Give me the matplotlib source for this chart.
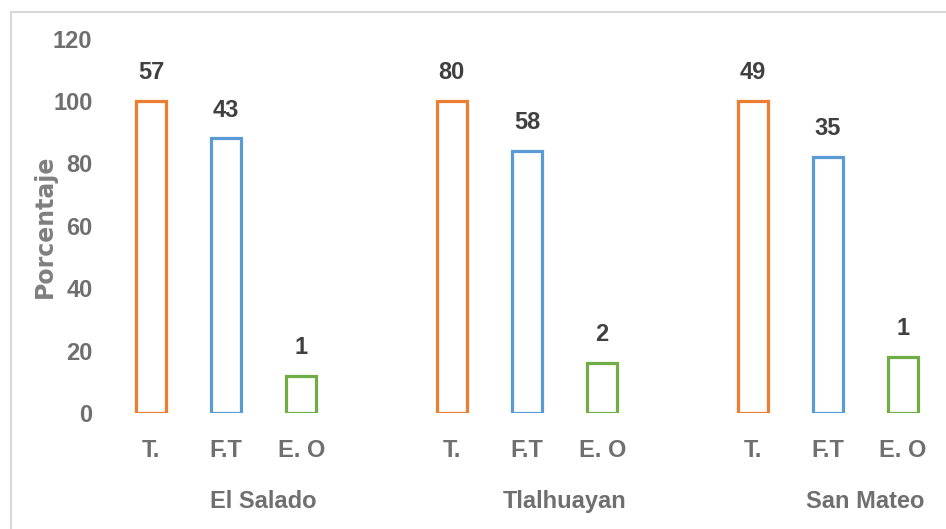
import matplotlib.pyplot as plt
from matplotlib.patches import Rectangle

groups = ["El Salado", "Tlalhuayan", "San Mateo"]
categories = ["T.", "F.T", "E. O"]
percentages = [
    [100, 88, 12],
    [100, 84, 16],
    [100, 82, 18],
]
counts = [
    [57, 43, 1],
    [80, 58, 2],
    [49, 35, 1],
]
colors = ["#ED7D31", "#5B9BD5", "#70AD47"]

NARROW = ["Liberation Sans Narrow", "Liberation Sans", "DejaVu Sans"]


def main():
    fig = plt.figure(figsize=(9.46, 5.29), dpi=100)
    ax = fig.add_axes([105 / 946, 1 - 413 / 529, (940 - 105) / 946, (413 - 38.6) / 529])

    xs, labels = [], []
    for g, name in enumerate(groups):
        for i, cat in enumerate(categories):
            x = g * 4 + i
            val = percentages[g][i]
            ax.bar(x, val, width=0.4, facecolor="white", edgecolor=colors[i],
                   linewidth=2.3, zorder=3)
            ax.annotate(str(counts[g][i]), (x, val), xytext=(0, 12),
                        textcoords="offset points", ha="center", va="bottom",
                        fontsize=17, fontweight="bold", color="#404040",
                        family=NARROW)
            xs.append(x)
            labels.append(cat)
        ax.text(g * 4 + 1.5, -0.237, name, transform=ax.get_xaxis_transform(),
                ha="center", va="center", fontsize=17, fontweight="bold",
                color="#6f6f6f", family=NARROW)

    ax.set_xlim(-0.61, 10.49)
    ax.set_ylim(0, 120)
    ax.set_yticks(range(0, 121, 20))
    ax.set_xticks(xs)
    ax.set_xticklabels(labels)
    for lab in ax.get_xticklabels() + ax.get_yticklabels():
        lab.set_family(NARROW)
        lab.set_fontsize(17)
        lab.set_fontweight("bold")
        lab.set_color("#6f6f6f")
    ax.tick_params(length=0)
    ax.tick_params(axis="y", pad=9)
    ax.tick_params(axis="x", pad=19)
    for s in ax.spines.values():
        s.set_visible(False)

    fig.text(45 / 946, 1 - 226 / 529, "Porcentaje", rotation=90, ha="center",
             va="center", fontsize=17, fontweight="bold", color="#7f7f7f")

    fig.patches.append(Rectangle((11 / 946, -0.05), 1.1, 1 - 12 / 529 + 0.05,
                                 transform=fig.transFigure, fill=False,
                                 edgecolor="#d9d9d9", linewidth=1.5))

    fig.savefig("out.png", dpi=100)


if __name__ == "__main__":
    main()
